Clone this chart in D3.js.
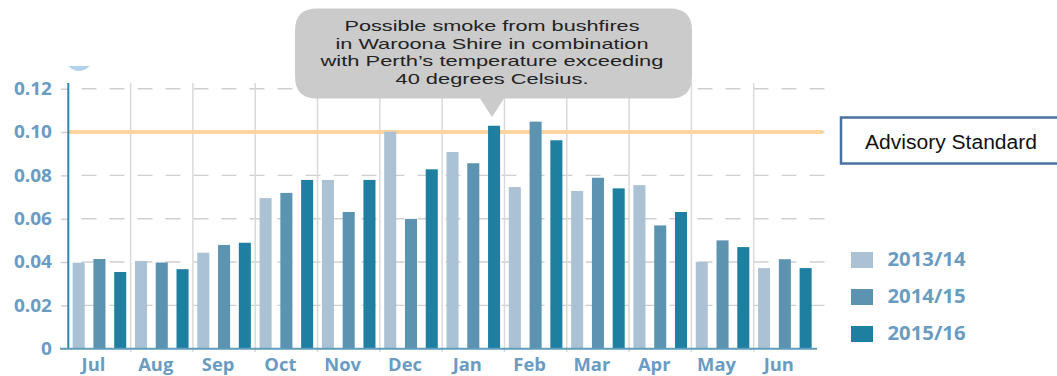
<!DOCTYPE html>
<html><head><meta charset="utf-8">
<script src="https://cdn.jsdelivr.net/npm/d3@7"></script>
<style>html,body{margin:0;padding:0;background:#fff;overflow:hidden;}svg{display:block;}</style>
</head><body>
<svg id="c" width="1057" height="376"></svg>
<script>
const months = ["Jul","Aug","Sep","Oct","Nov","Dec","Jan","Feb","Mar","Apr","May","Jun"];
const seriesNames = ["2013/14","2014/15","2015/16"];
const s2013 = [0.0397,0.0405,0.0443,0.0695,0.0779,0.1002,0.0908,0.0746,0.0728,0.0755,0.0400,0.0372];
const s2014 = [0.0414,0.0398,0.0479,0.0719,0.0631,0.0599,0.0856,0.1048,0.0789,0.0569,0.0500,0.0413];
const s2015 = [0.0354,0.0367,0.0489,0.0779,0.0779,0.0828,0.1029,0.0962,0.0740,0.0631,0.0469,0.0372];
const yTicks = [0,0.02,0.04,0.06,0.08,0.10,0.12];
const yTickLabels = ["0","0.02","0.04","0.06","0.08","0.10","0.12"];
const advisory = 0.10;
const advisoryLabel = "Advisory Standard";
const calloutLines = ["Possible smoke from bushfires","in Waroona Shire in combination","with Perth\u2019s temperature exceeding","40 degrees Celsius."];

const colors = ["#abc2d5","#5c93b1","#1e7fa0"];
const labelColor = "#6a9cc2";
const series = [s2013,s2014,s2015];

const svg = d3.select("#c");
const x0 = d3.scaleBand().domain(months).range([68.3,816]).padding(0);
const x1 = d3.scaleBand().domain(seriesNames).range([0,x0.bandwidth()]).paddingInner(0.42).paddingOuter(0.21);
const y = d3.scaleLinear().domain([0,0.12]).range([348.7,88.7]);

function stretch(sel, k){
  sel.each(function(){
    const w = this.getComputedTextLength();
    d3.select(this).attr("textLength", w*k).attr("lengthAdjust","spacingAndGlyphs");
  });
}

// small arc top-left
svg.append("path").attr("d","M68,66 Q79,76 90,66 Z").attr("fill","#b3d2ec");

// gridlines
svg.append("g").selectAll("line").data(yTicks.slice(1)).join("line")
  .attr("x1",81.5).attr("x2",829).attr("y1",d=>y(d)).attr("y2",d=>y(d))
  .attr("stroke","#cfcfcf").attr("stroke-width",1.4).attr("stroke-dasharray","15,13");

// month separators
svg.append("g").selectAll("line").data(months.slice(1)).join("line")
  .attr("x1",d=>x0(d)).attr("x2",d=>x0(d)).attr("y1",83).attr("y2",352)
  .attr("stroke","#d9d9d9").attr("stroke-width",1.5);

// advisory line
svg.append("line").attr("x1",68).attr("x2",823).attr("y1",y(advisory)).attr("y2",y(advisory))
  .attr("stroke","#fcd49d").attr("stroke-width",4);

// bars
const g = svg.append("g");
series.forEach((vals,si)=>{
  g.append("g").selectAll("rect").data(vals).join("rect")
    .attr("x",(d,i)=>x0(months[i])+x1(seriesNames[si]))
    .attr("width",x1.bandwidth())
    .attr("y",d=>y(d)).attr("height",d=>y(0)-y(d))
    .attr("fill",colors[si]);
});

// y axis
const yAxis = d3.axisLeft(y).tickValues(yTicks).tickFormat((d,i)=>yTickLabels[i]).tickSize(7).tickPadding(9);
const ya = svg.append("g").attr("transform","translate(68,0)").call(yAxis);
ya.select(".domain").remove();
ya.selectAll(".tick line").attr("stroke","#cccccc").attr("stroke-width",1.4);
ya.selectAll(".tick text").attr("fill",labelColor).attr("font-family","Open Sans").attr("font-weight",700).attr("font-size",17).attr("dy","0.34em");
stretch(ya.selectAll(".tick text"),1.12);
svg.append("line").attr("x1",68.3).attr("x2",68.3).attr("y1",83).attr("y2",349).attr("stroke","#2e87ab").attr("stroke-width",2);

// baseline
svg.append("line").attr("x1",60).attr("x2",817).attr("y1",y(0)).attr("y2",y(0)).attr("stroke","#5e9dbd").attr("stroke-width",2);

// x labels
const xl = svg.append("g").selectAll("text").data(months).join("text")
  .attr("x",d=>x0(d)+x0.bandwidth()/2-6).attr("y",370.5).attr("text-anchor","middle")
  .attr("fill",labelColor).attr("font-family","Open Sans").attr("font-weight",700).attr("font-size",17)
  .text(d=>d);
stretch(xl,1.08);

// legend
const lg = svg.append("g");
seriesNames.forEach((n,i)=>{
  const yy = 252 + i*37;
  lg.append("rect").attr("x",851).attr("y",yy).attr("width",22).attr("height",16).attr("fill",colors[i]);
  const t = lg.append("text").attr("x",887.5).attr("y",yy+14).attr("fill",labelColor)
    .attr("font-family","Open Sans").attr("font-weight",700).attr("font-size",19).text(n);
  t.attr("textLength",78).attr("lengthAdjust","spacingAndGlyphs");
});

// advisory box
svg.append("rect").attr("x",841).attr("y",117.5).attr("width",250).attr("height",46)
  .attr("fill","#fff").attr("stroke","#4a72a1").attr("stroke-width",2.5);
svg.append("text").attr("x",865).attr("y",149.3).attr("font-family","Liberation Sans, Arial").attr("font-size",20)
  .attr("fill","#111").attr("textLength",172).attr("lengthAdjust","spacingAndGlyphs").text(advisoryLabel);

// callout
const L=295,R=692,T=8.5,B=98.5,r=22;
const cp = `M${L+r},${T} H${R-r} Q${R},${T} ${R},${T+r} V${B-r} Q${R},${B} ${R-r},${B} H504 L492,117 L480,${B} H${L+r} Q${L},${B} ${L},${B-r} V${T+r} Q${L},${T} ${L+r},${T} Z`;
svg.append("path").attr("d",cp).attr("fill","#cbcbcb");
const lens = [295,313,343,193];
const cg = svg.append("g");
calloutLines.forEach((s,i)=>{
  cg.append("text").attr("x",492).attr("y",31.3+i*17.4).attr("text-anchor","middle")
    .attr("font-family","Liberation Sans, Arial").attr("font-size",15).attr("fill","#222")
    .attr("textLength",lens[i]).attr("lengthAdjust","spacingAndGlyphs").text(s);
});
</script>
</body></html>
